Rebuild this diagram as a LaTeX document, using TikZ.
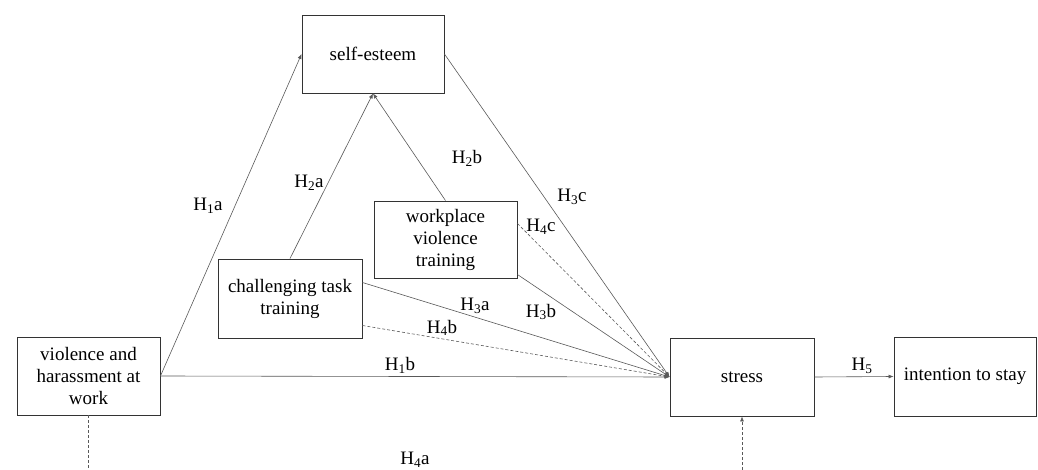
\documentclass[tikz,border=0pt]{standalone}
\usepackage{fontspec}
\setmainfont{Liberation Serif}
\newfontfamily\tnr{Liberation Serif}
\usetikzlibrary{arrows.meta}
\begin{document}
\begin{tikzpicture}[x=1pt,y=-1pt,
  box/.style={draw=black!80,line width=0.9pt,align=center,inner sep=2pt,
    font=\tnr\fontsize{19}{22}\selectfont},
  conn/.style={draw=black!65,line width=0.6pt},
  arr/.style={conn,-{Latex[length=5pt,width=4pt]}},
  darr/.style={arr,dashed,dash pattern=on 3pt off 2pt},
  dline/.style={conn,dashed,dash pattern=on 3pt off 2pt},
  lab/.style={font=\tnr\fontsize{19}{22}\selectfont,inner sep=0pt}]
\useasboundingbox (0,0) rectangle (1038,470);
% boxes
\node[box,minimum width=142pt,minimum height=78pt] (se) at (373,54) {self-esteem};
\node[box,minimum width=143pt,minimum height=77pt] (wvt) at (445.5,239.5) {workplace\\violence\\training};
\node[box,minimum width=144pt,minimum height=79pt] (ctt) at (290,298.5) {challenging task\\training};
\node[box,minimum width=143pt,minimum height=78pt] (vh) at (88.5,376) {violence and\\harassment at\\work};
\node[box,minimum width=144pt,minimum height=78pt] (st) at (742,377) {stress};
\node[box,minimum width=142pt,minimum height=79pt] (its) at (965,376.5) {intention to stay};
\coordinate (vhb) at (88.5,470);
\coordinate (stb) at (742,470);
% connectors
\draw[arr] (vh.east) -- (se.west);
\draw[arr] (vh.east) -- (st.west);
\draw[arr] (ctt.north) -- (se.south);
\draw[arr] (wvt.north) -- (se.south);
\draw[arr] (se.east) -- (st.west);
\draw[darr] ([yshift=16pt]wvt.east) -- (st.west);
\draw[arr] ([yshift=-35pt]wvt.east) -- (st.west);
\draw[arr] ([yshift=16pt]ctt.east) -- (st.west);
\draw[darr] ([yshift=-27pt]ctt.east) -- (st.west);
\draw[arr] (st.east) -- (its.west);
\draw[dline] (vh.south) -- (vhb);
\draw[darr] (stb) -- (st.south);
% labels
\node[lab] (l1a) at (208,206) {H\textsubscript{1}a};
\node[lab] (l2a) at (309,183) {H\textsubscript{2}a};
\node[lab] (l2b) at (467,158) {H\textsubscript{2}b};
\node[lab] (l3c) at (572,197) {H\textsubscript{3}c};
\node[lab] (l4c) at (541,227) {H\textsubscript{4}c};
\node[lab] (l3a) at (475,306) {H\textsubscript{3}a};
\node[lab] (l3b) at (541,312) {H\textsubscript{3}b};
\node[lab] (l4b) at (442,328) {H\textsubscript{4}b};
\node[lab] (l1b) at (400,365) {H\textsubscript{1}b};
\node[lab] (l4a) at (415,460) {H\textsubscript{4}a};
\node[lab] (l5) at (862,366) {H\textsubscript{5}};
\end{tikzpicture}
\end{document}
